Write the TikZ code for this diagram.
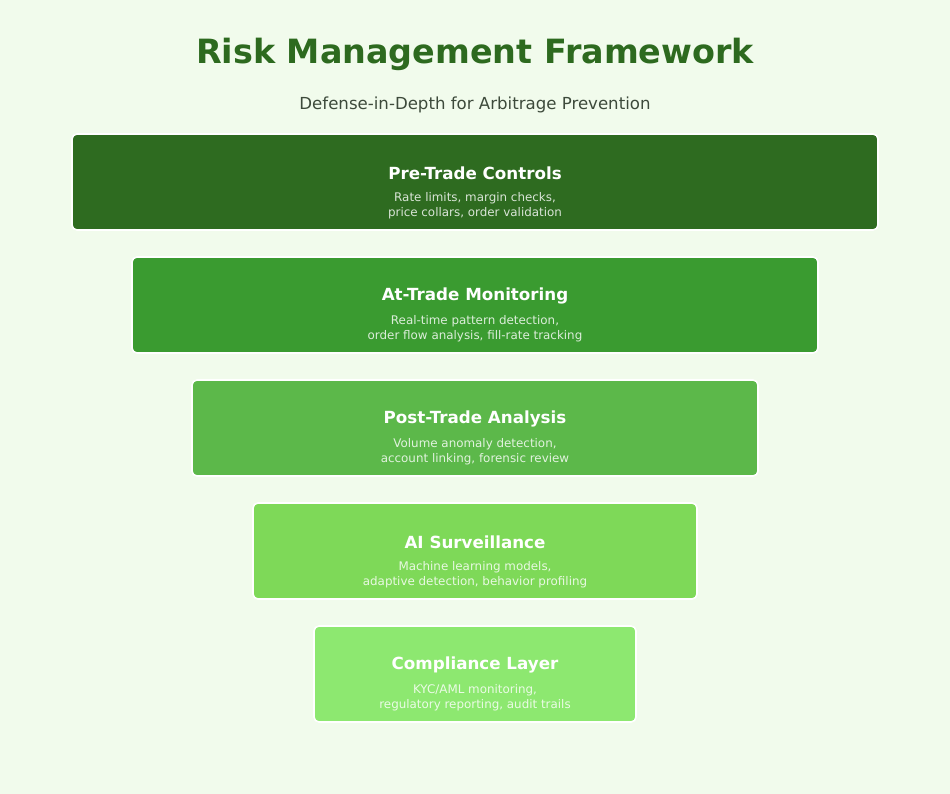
\documentclass[tikz,border=0pt]{standalone}
\usepackage{fontspec}
\setmainfont{DejaVu Sans}
\begin{document}
\begin{tikzpicture}[x=1pt,y=-1pt,
  layer/.style={draw=white,line width=1.6pt,rounded corners=5pt},
  ltitle/.style={text=white,font=\bfseries\fontsize{16.7}{20}\selectfont,anchor=center},
  ldesc/.style={text=white,text opacity=0.82,font=\fontsize{11.9}{15}\selectfont,align=center,anchor=north}]
\definecolor{bg}{HTML}{F1FBEC}
\definecolor{ttl}{HTML}{2D6A1F}
\definecolor{sub}{HTML}{3D4A3B}
\definecolor{cA}{HTML}{2E6B20}
\definecolor{cB}{HTML}{3A9B30}
\definecolor{cC}{HTML}{5CB84A}
\definecolor{cD}{HTML}{7ED958}
\definecolor{cE}{HTML}{8DE870}
\fill[bg] (0,0) rectangle (950,794);
\useasboundingbox (0,0) rectangle (950,794);
\node[text=ttl,font=\bfseries\fontsize{33.4}{40}\selectfont] (title) at (475,54) {Risk Management Framework};
\node[text=sub,font=\fontsize{16.6}{20}\selectfont] (subtitle) at (475,105) {Defense-in-Depth for Arbitrage Prevention};
\foreach \n/\hw/\yc/\c/\t/\da/\db in {
  a/403/182/cA/Pre-Trade Controls/{Rate limits, margin checks,}/{price collars, order validation},
  b/343/305/cB/At-Trade Monitoring/{Real-time pattern detection,}/{order flow analysis, fill-rate tracking},
  c/283/428/cC/Post-Trade Analysis/{Volume anomaly detection,}/{account linking, forensic review},
  d/222/551/cD/AI Surveillance/{Machine learning models,}/{adaptive detection, behavior profiling},
  e/161/674/cE/Compliance Layer/{KYC/AML monitoring,}/{regulatory reporting, audit trails}}{
  \draw[layer,fill=\c] (475-\hw,\yc-48) rectangle (475+\hw,\yc+48);
  \node[ltitle] (t\n) at (475,\yc-9) {\t};
  \node[ldesc] (d\n) at (475,\yc+6.5) {\da\\\db};
}
\end{tikzpicture}
\end{document}
